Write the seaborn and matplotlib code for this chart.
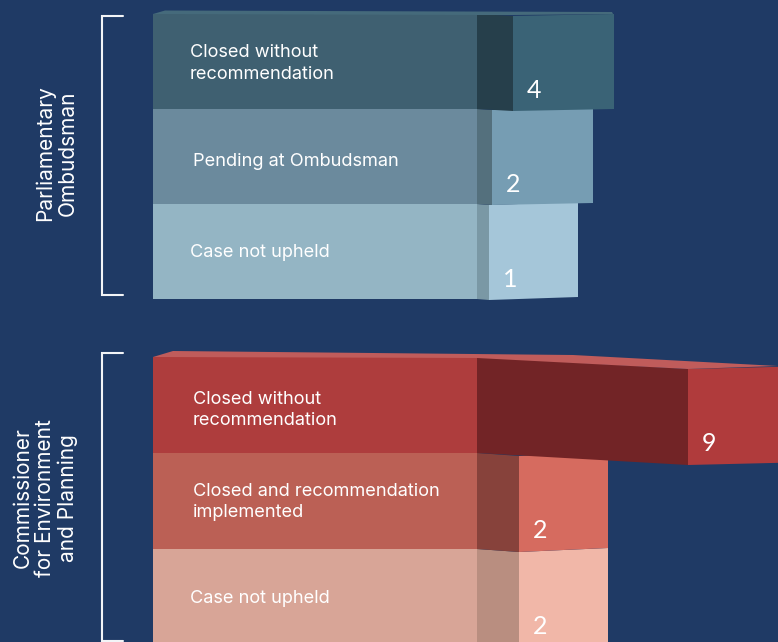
#!/usr/bin/env python3
"""
Folded bar chart of complaint outcomes per office
"""

import matplotlib.pyplot as plt
import seaborn as sns
from matplotlib.lines import Line2D
from matplotlib.patches import Polygon
from matplotlib.transforms import Affine2D

# Data
office_names = ["Parliamentary\nOmbudsman", "Commissioner\nfor Environment\nand Planning"]

ombudsman_outcomes = ["Closed without\nrecommendation", "Pending at Ombudsman", "Case not upheld"]
ombudsman_counts = [4, 2, 1]
ombudsman_flat = [324, 324, 324]
ombudsman_fold = [36, 15, 12]
ombudsman_end = [101, 101, 89]
ombudsman_fold_drop = [2, 1, 1]
ombudsman_end_rise = [2, 2, 3]
ombudsman_colors = [["#3f6071", "#263f4b", "#3a6376"],
                    ["#6b8a9d", "#54707d", "#769db3"],
                    ["#94b5c4", "#7a98a5", "#a5c6d9"]]

commissioner_outcomes = ["Closed without\nrecommendation", "Closed and recommendation\nimplemented", "Case not upheld"]
commissioner_counts = [9, 2, 2]
commissioner_flat = [324, 324, 324]
commissioner_fold = [211, 42, 42]
commissioner_end = [125, 89, 89]
commissioner_fold_drop = [12, 3, 3]
commissioner_end_rise = [3, 4, 4]
commissioner_colors = [["#ae3d3d", "#722426", "#b03b3c"],
                       ["#bb6055", "#87423b", "#d66b5f"],
                       ["#d8a597", "#b98e80", "#f1b7a8"]]

BG = "#1f3a65"
W, H = 778, 642
LABEL_FONT = "Inter"
COUNT_FONT = "Lato"

sns.set_style("white")
fig = plt.figure(figsize=(W / 100, H / 100), dpi=100, facecolor=BG)


def px(x, y):
    return x / W, 1 - y / H


def shear(patch, ax, drop_rows, width):
    # tilt a bar segment around its left edge to fake the perspective
    x0 = patch.get_x()
    s = drop_rows / width
    patch.set_transform(Affine2D.from_values(1, s, 0, 1, 0, -s * x0) + ax.transData)
    patch.set_clip_on(False)


def folded_bars(top, bottom, outcomes, counts, flat, fold, end, drops, rises, colors, dx, dy):
    ax = fig.add_axes([0, 1 - bottom / H, 1, (bottom - top) / H])
    row_px = (bottom - top) / 3
    fold_left = list(flat)
    end_left = [a + b for a, b in zip(flat, fold)]

    for i, (values, left) in enumerate([(flat, None), (fold, fold_left), (end, end_left)]):
        kws = {} if left is None else {"left": left}
        before = len(ax.patches)
        sns.barplot(x=values, y=outcomes, width=1, ax=ax, linewidth=0, color=BG, saturation=1, **kws)
        for r, bar in enumerate(ax.patches[before:]):
            bar.set_facecolor(colors[r][i])
            bar.set_edgecolor("none")
            # upper rows sit on top of the ones below, end panel under the fold
            bar.set_zorder(10 - r * 3 + (0 if i == 1 else (-1 if i == 2 else -2)))
            if i == 1:
                shear(bar, ax, drops[r] / row_px, fold[r])
            elif i == 2:
                bar.set_y(bar.get_y() + drops[r] / row_px)
                shear(bar, ax, -rises[r] / row_px, end[r])

    ax.set_xlim(-153, W - 153)
    ax.set_ylim(2.5, -0.5)
    ax.set_axis_off()

    for r, name in enumerate(outcomes):
        ax.text(dx[r], r + dy[r], name, color="white", fontsize=13.1, family=LABEL_FONT,
                va="center", ha="left", linespacing=1.33, zorder=20)
        ax.text(end_left[r] + 14, r + 0.28 + drops[r] / row_px, str(counts[r]), color="white",
                fontsize=18, family=COUNT_FONT, va="center", ha="left", zorder=20)
    return ax, row_px


def bracket(x0, x1, y0, y1):
    xs = [x1, x0, x0, x1]
    ys = [y0, y0, y1, y1]
    pts = [px(a, b) for a, b in zip(xs, ys)]
    fig.add_artist(Line2D([p[0] for p in pts], [p[1] for p in pts], color="#f2f4f7", lw=1.5,
                          solid_joinstyle="miter"))


ax1, row1 = folded_bars(14, 299, ombudsman_outcomes, ombudsman_counts, ombudsman_flat,
                        ombudsman_fold, ombudsman_end, ombudsman_fold_drop, ombudsman_end_rise,
                        ombudsman_colors, [37, 40, 37], [0.02, 0.05, 0.01])
ax2, row2 = folded_bars(357, 645, commissioner_outcomes, commissioner_counts, commissioner_flat,
                        commissioner_fold, commissioner_end, commissioner_fold_drop, commissioner_end_rise,
                        commissioner_colors, [40, 40, 37], [0.05, 0.01, 0.02])

# lids along the top of both first rows
lid1_right = ombudsman_flat[0] + ombudsman_fold[0] + ombudsman_end[0]
ax1.add_patch(Polygon([(0, -0.5), (12, -0.5 - 3.5 / row1), (lid1_right - 2, -0.5 - 2 / row1),
                       (lid1_right - 1, -0.5), (ombudsman_flat[0] + ombudsman_fold[0], -0.5 + 1 / row1),
                       (ombudsman_flat[0], -0.5 + 1 / row1)],
                      closed=True, facecolor="#456a7b", edgecolor="none", clip_on=False, zorder=11))
fold_end2 = commissioner_flat[0] + commissioner_fold[0]
ax2.add_patch(Polygon([(0, -0.5), (20, -0.5 - 6 / row2), (420, -0.5 - 2 / row2),
                       (fold_end2 + 90, -0.5 + 9 / row2), (fold_end2, -0.5 + 12 / row2),
                       (commissioner_flat[0], -0.5 + 1 / row2)],
                      closed=True, facecolor="#c05c5b", edgecolor="none", clip_on=False, zorder=11))

bracket(102, 123, 16, 295)
bracket(102, 123, 353, 641)

x, y = px(56, 153)
fig.text(x, y, office_names[0], color="white", rotation=90, fontsize=15, family=LABEL_FONT,
         ha="center", va="center", multialignment="center", linespacing=1.15)
x, y = px(45, 498)
fig.text(x, y, office_names[1], color="white", rotation=90, fontsize=15, family=LABEL_FONT,
         ha="center", va="center", multialignment="center", linespacing=1.15)

fig.savefig("out.png", dpi=100, facecolor=BG)
